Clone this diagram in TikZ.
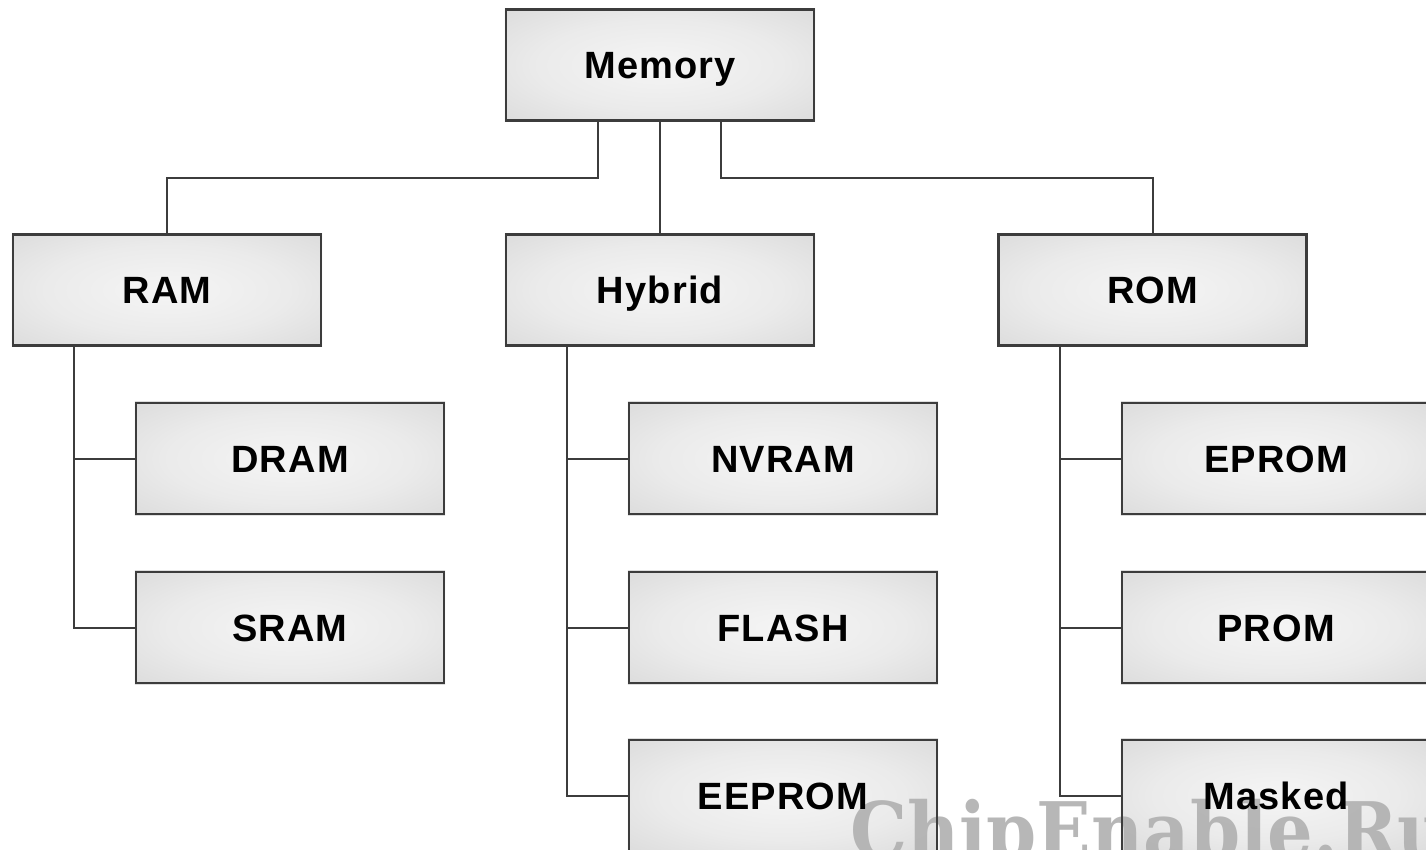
\documentclass[tikz,border=0pt]{standalone}
\usepackage{fontspec}
\setmainfont{Liberation Sans}
\newfontfamily\labelfont[LetterSpace=3]{Liberation Sans}
\newfontfamily\wmfont{DejaVu Serif}
\definecolor{edge}{HTML}{3C3C3C}
\definecolor{wm}{HTML}{B0B0B0}
\pgfdeclarelayer{shade}
\pgfdeclarelayer{mark}
\pgfsetlayers{shade,mark,main}
% soft glow from the middle of each box to its rim
\pgfdeclareradialshading{boxglow}{\pgfpoint{0bp}{0bp}}{%
  color(0bp)=(white!96!black); color(20bp)=(white!92!black);
  color(50bp)=(white!81!black); color(72bp)=(white!75!black)}
\tikzset{
  membox/.style={draw=edge, line width=2.4pt, minimum width=308pt, minimum height=111pt,
    inner sep=0pt, text height=27pt, text depth=0pt,
    font=\labelfont\fontsize{38}{40}\selectfont\bfseries, text=black},
  boxfill/.style={shading=boxglow},
  link/.style={draw=edge, line width=2pt}
}
\begin{document}
\begin{tikzpicture}[x=1pt,y=-1pt]
\clip (0,0) rectangle (1426,850);

% top level
\node[membox] (mem) at (660,65) {Memory};

% second level
\node[membox] (ram) at (167,290) {RAM};
\node[membox] (hyb) at (660,290) {Hybrid};
\node[membox] (rom) at (1152.5,290) {ROM};

% RAM family
\node[membox] (dram) at (290,458.5) {DRAM};
\node[membox] (sram) at (290,627.5) {SRAM};

% hybrid family
\node[membox] (nvram) at (783,458.5) {NVRAM};
\node[membox] (flash) at (783,627.5) {FLASH};
\node[membox] (eeprom) at (783,795.5) {EEPROM};

% ROM family
\node[membox] (eprom) at (1276,458.5) {EPROM};
\node[membox] (prom) at (1276,627.5) {PROM};
\node[membox] (masked) at (1276,795.5) {Masked};

% white page, then the shaded faces behind the outlines and labels
\begin{pgfonlayer}{shade}
  \fill[white] (0,0) rectangle (1426,850);
  \foreach \b in {mem,ram,hyb,rom,dram,sram,nvram,flash,eeprom,eprom,prom,masked}
    \path[boxfill] (\b.south west) rectangle (\b.north east);
\end{pgfonlayer}

% links from the root
\draw[link] ([xshift=-62pt]mem.south) -- ++(0,56) -| (ram.north);
\draw[link] (mem.south) -- (hyb.north);
\draw[link] ([xshift=61pt]mem.south) -- ++(0,56) -| (rom.north);

% trunks down to the leaves
\coordinate (ramt) at ([xshift=-93pt]ram.south);
\coordinate (hybt) at ([xshift=-93pt]hyb.south);
\coordinate (romt) at ([xshift=-92.5pt]rom.south);

\draw[link] (ramt) |- (sram.west);
\draw[link] (ramt) |- (dram.west);

\draw[link] (hybt) |- (eeprom.west);
\draw[link] (hybt) |- (nvram.west);
\draw[link] (hybt) |- (flash.west);

\draw[link] (romt) |- (masked.west);
\draw[link] (romt) |- (eprom.west);
\draw[link] (romt) |- (prom.west);

% site mark, under the outlines and labels
\begin{pgfonlayer}{mark}
\node[anchor=base west, inner sep=0pt, text=wm, opacity=0.9,
      font=\wmfont\fontsize{78}{80}\selectfont\bfseries] (mark) at (850,858)
      {\scalebox{0.92}[1]{ChipEnable.Ru}};
\end{pgfonlayer}
\end{tikzpicture}
\end{document}
